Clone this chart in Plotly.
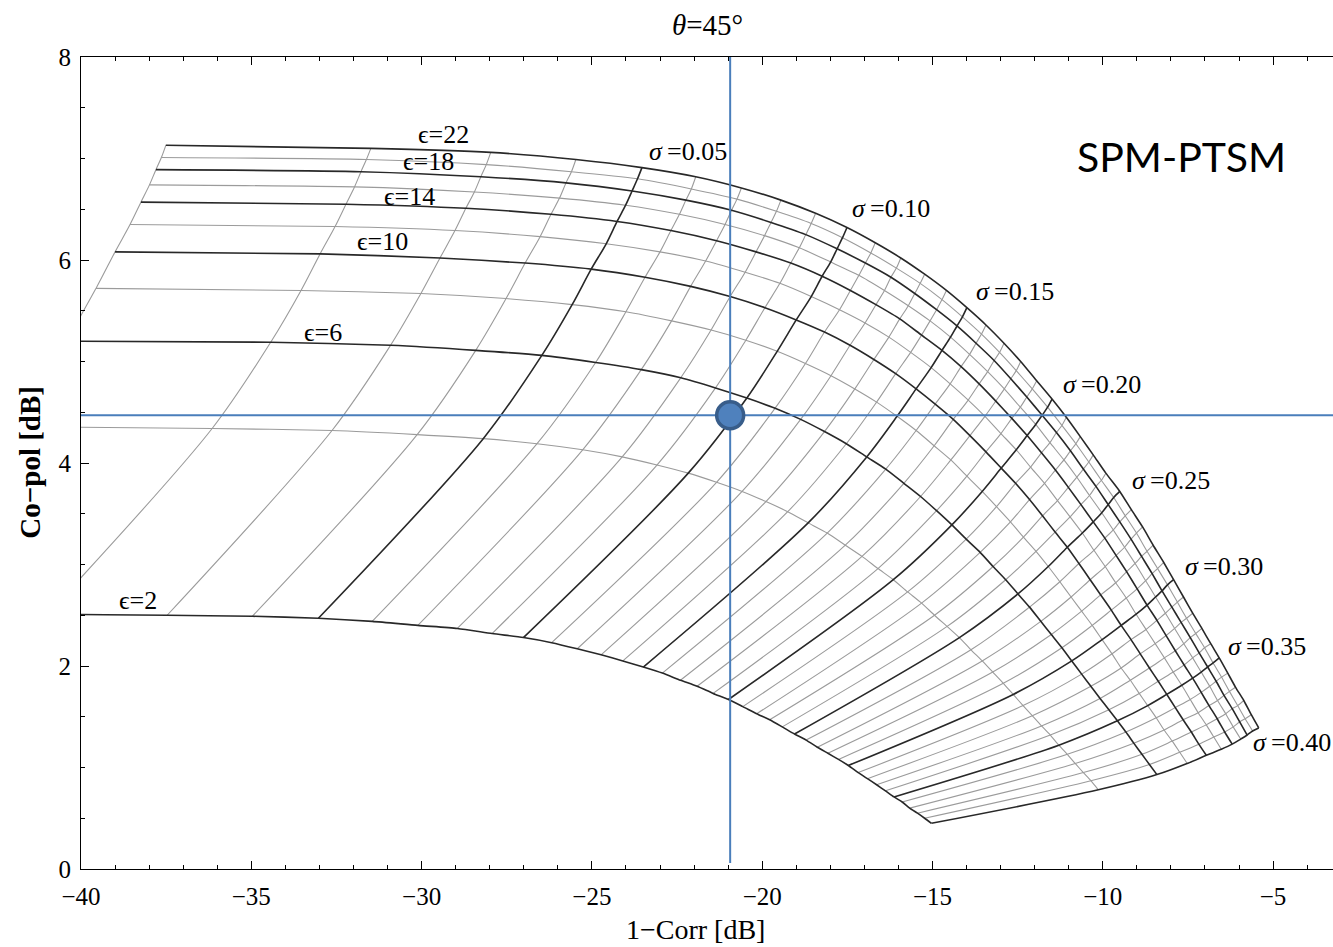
import plotly.graph_objects as go

# ---------------- data ----------------
sigma = [0.01, 0.02, 0.03, 0.04, 0.05, 0.06, 0.07, 0.08, 0.09, 0.10,
         0.11, 0.12, 0.13, 0.14, 0.15, 0.16, 0.17, 0.18, 0.19, 0.20,
         0.21, 0.22, 0.23, 0.24, 0.25, 0.26, 0.27, 0.28, 0.29, 0.30,
         0.31, 0.32, 0.33, 0.34, 0.35, 0.36, 0.37, 0.38, 0.39, 0.40]
eps = [2, 4, 6, 8, 10, 12, 14, 16, 18, 20, 22]
thick_eps = [2, 6, 10, 14, 18, 22]
thick_sigma = [0.05, 0.10, 0.15, 0.20, 0.25, 0.30, 0.35, 0.40]

# 1-Corr [dB] along each epsilon curve (one value per sigma)
corr_eps2 = [-47.01, -40.99, -37.47, -34.97, -33.03, -31.45, -30.11, -28.95, -27.93, -27.01,
             -26.18, -25.43, -24.73, -24.09, -23.49, -22.93, -22.40, -21.91, -21.44, -20.99,
             -20.57, -20.16, -19.78, -19.41, -19.05, -18.71, -18.38, -18.07, -17.76, -17.47,
             -17.18, -16.91, -16.64, -16.38, -16.13, -15.89, -15.67, -15.44, -15.23, -15.03]
corr_eps4 = [-42.17, -36.15, -32.63, -30.13, -28.19, -26.61, -25.27, -24.11, -23.09, -22.17,
             -21.34, -20.59, -19.89, -19.25, -18.65, -18.09, -17.56, -17.07, -16.60, -16.15,
             -15.73, -15.32, -14.94, -14.57, -14.21, -13.87, -13.54, -13.23, -12.92, -12.63,
             -12.34, -12.07, -11.80, -11.54, -11.29, -11.04, -10.81, -10.57, -10.35, -10.13]
corr_eps6 = [-40.45, -34.43, -30.91, -28.41, -26.47, -24.89, -23.55, -22.39, -21.37, -20.45,
             -19.62, -18.87, -18.17, -17.53, -16.93, -16.37, -15.84, -15.35, -14.88, -14.43,
             -14.01, -13.60, -13.22, -12.85, -12.49, -12.15, -11.82, -11.51, -11.20, -10.91,
             -10.62, -10.35, -10.08, -9.82, -9.57, -9.32, -9.09, -8.85, -8.63, -8.41]
corr_eps8 = [-39.56, -33.54, -30.02, -27.52, -25.58, -24.00, -22.66, -21.50, -20.48, -19.56,
             -18.73, -17.98, -17.28, -16.64, -16.04, -15.48, -14.95, -14.46, -13.99, -13.54,
             -13.12, -12.71, -12.33, -11.96, -11.60, -11.26, -10.93, -10.62, -10.31, -10.02,
             -9.73, -9.46, -9.19, -8.93, -8.68, -8.43, -8.20, -7.96, -7.74, -7.52]
corr_eps10 = [-39.00, -32.98, -29.46, -26.96, -25.02, -23.44, -22.10, -20.94, -19.92, -19.00,
              -18.17, -17.42, -16.72, -16.08, -15.48, -14.92, -14.39, -13.90, -13.43, -12.98,
              -12.56, -12.15, -11.77, -11.40, -11.04, -10.70, -10.37, -10.06, -9.75, -9.46,
              -9.17, -8.90, -8.63, -8.37, -8.12, -7.87, -7.64, -7.40, -7.18, -6.96]
corr_eps12 = [-38.56, -32.54, -29.02, -26.52, -24.58, -23.00, -21.66, -20.50, -19.48, -18.56,
              -17.73, -16.98, -16.28, -15.64, -15.04, -14.48, -13.95, -13.46, -12.99, -12.54,
              -12.12, -11.71, -11.33, -10.96, -10.60, -10.26, -9.93, -9.62, -9.31, -9.02,
              -8.73, -8.46, -8.19, -7.93, -7.68, -7.43, -7.20, -6.96, -6.74, -6.52]
corr_eps14 = [-38.24, -32.22, -28.70, -26.20, -24.26, -22.68, -21.34, -20.18, -19.16, -18.24,
              -17.41, -16.66, -15.96, -15.32, -14.72, -14.16, -13.63, -13.14, -12.67, -12.22,
              -11.80, -11.39, -11.01, -10.64, -10.28, -9.94, -9.61, -9.30, -8.99, -8.70,
              -8.41, -8.14, -7.87, -7.61, -7.36, -7.11, -6.88, -6.64, -6.42, -6.20]
corr_eps16 = [-37.99, -31.97, -28.45, -25.95, -24.01, -22.43, -21.09, -19.93, -18.91, -17.99,
              -17.16, -16.41, -15.71, -15.07, -14.47, -13.91, -13.38, -12.89, -12.42, -11.97,
              -11.55, -11.14, -10.76, -10.39, -10.03, -9.69, -9.36, -9.05, -8.74, -8.45,
              -8.16, -7.89, -7.62, -7.36, -7.11, -6.86, -6.63, -6.39, -6.17, -5.95]
corr_eps18 = [-37.80, -31.78, -28.26, -25.76, -23.82, -22.24, -20.90, -19.74, -18.72, -17.80,
              -16.97, -16.22, -15.52, -14.88, -14.28, -13.72, -13.19, -12.70, -12.23, -11.78,
              -11.36, -10.95, -10.57, -10.20, -9.84, -9.50, -9.17, -8.86, -8.55, -8.26,
              -7.97, -7.70, -7.43, -7.17, -6.92, -6.67, -6.44, -6.20, -5.98, -5.76]
corr_eps20 = [-37.64, -31.62, -28.10, -25.60, -23.66, -22.08, -20.74, -19.58, -18.56, -17.64,
              -16.81, -16.06, -15.36, -14.72, -14.12, -13.56, -13.03, -12.54, -12.07, -11.62,
              -11.20, -10.79, -10.41, -10.04, -9.68, -9.34, -9.01, -8.70, -8.39, -8.10,
              -7.81, -7.54, -7.27, -7.01, -6.76, -6.51, -6.28, -6.04, -5.82, -5.60]
corr_eps22 = [-37.51, -31.49, -27.97, -25.47, -23.53, -21.95, -20.61, -19.45, -18.43, -17.51,
              -16.68, -15.93, -15.23, -14.59, -13.99, -13.43, -12.90, -12.41, -11.94, -11.49,
              -11.07, -10.66, -10.28, -9.91, -9.50, -9.16, -8.83, -8.52, -8.21, -7.92,
              -7.63, -7.36, -7.09, -6.83, -6.58, -6.33, -6.10, -5.86, -5.64, -5.42]

# Co-pol [dB] along each epsilon curve (one value per sigma)
copol_eps2 = [2.52, 2.51, 2.50, 2.49, 2.47, 2.44, 2.40, 2.37, 2.32, 2.28,
              2.23, 2.17, 2.11, 2.05, 1.99, 1.93, 1.86, 1.80, 1.73, 1.67,
              1.60, 1.53, 1.47, 1.40, 1.33, 1.27, 1.20, 1.14, 1.08, 1.02,
              0.95, 0.89, 0.83, 0.77, 0.71, 0.66, 0.60, 0.55, 0.50, 0.45]
copol_eps4 = [4.36, 4.34, 4.32, 4.28, 4.24, 4.19, 4.13, 4.06, 3.98, 3.90,
              3.81, 3.72, 3.62, 3.52, 3.41, 3.31, 3.19, 3.08, 2.96, 2.85,
              2.73, 2.62, 2.50, 2.39, 2.28, 2.16, 2.05, 1.94, 1.83, 1.72,
              1.61, 1.51, 1.41, 1.32, 1.22, 1.13, 1.04, 0.95, 0.87, 0.78]
copol_eps6 = [5.20, 5.19, 5.16, 5.11, 5.06, 4.99, 4.92, 4.84, 4.74, 4.64,
              4.54, 4.43, 4.31, 4.19, 4.06, 3.94, 3.80, 3.67, 3.53, 3.39,
              3.25, 3.12, 2.98, 2.85, 2.71, 2.58, 2.44, 2.31, 2.18, 2.05,
              1.92, 1.80, 1.68, 1.57, 1.46, 1.35, 1.24, 1.13, 1.03, 0.93]
copol_eps8 = [5.72, 5.70, 5.67, 5.62, 5.56, 5.49, 5.40, 5.31, 5.21, 5.10,
              4.98, 4.86, 4.73, 4.60, 4.46, 4.32, 4.17, 4.03, 3.87, 3.72,
              3.57, 3.42, 3.27, 3.13, 2.98, 2.83, 2.68, 2.54, 2.40, 2.26,
              2.12, 1.98, 1.86, 1.73, 1.61, 1.49, 1.37, 1.26, 1.15, 1.04]
copol_eps10 = [6.08, 6.06, 6.02, 5.97, 5.91, 5.83, 5.74, 5.64, 5.53, 5.41,
               5.29, 5.16, 5.02, 4.88, 4.73, 4.58, 4.43, 4.27, 4.11, 3.95,
               3.80, 3.64, 3.48, 3.32, 3.17, 3.01, 2.85, 2.70, 2.55, 2.40,
               2.26, 2.12, 1.98, 1.85, 1.72, 1.59, 1.47, 1.35, 1.23, 1.12]
copol_eps12 = [6.35, 6.33, 6.29, 6.23, 6.16, 6.08, 5.99, 5.88, 5.77, 5.64,
               5.51, 5.38, 5.24, 5.09, 4.94, 4.78, 4.62, 4.46, 4.29, 4.13,
               3.96, 3.80, 3.63, 3.47, 3.31, 3.14, 2.98, 2.82, 2.67, 2.51,
               2.36, 2.22, 2.08, 1.94, 1.81, 1.67, 1.54, 1.42, 1.30, 1.18]
copol_eps14 = [6.57, 6.55, 6.51, 6.45, 6.38, 6.29, 6.19, 6.08, 5.97, 5.84,
               5.70, 5.56, 5.42, 5.26, 5.11, 4.95, 4.78, 4.61, 4.44, 4.27,
               4.10, 3.93, 3.76, 3.59, 3.42, 3.26, 3.09, 2.93, 2.76, 2.60,
               2.45, 2.30, 2.15, 2.01, 1.88, 1.74, 1.61, 1.48, 1.35, 1.23]
copol_eps16 = [6.74, 6.72, 6.67, 6.61, 6.54, 6.45, 6.35, 6.24, 6.12, 5.98,
               5.85, 5.70, 5.55, 5.40, 5.24, 5.07, 4.90, 4.73, 4.55, 4.38,
               4.20, 4.03, 3.86, 3.68, 3.51, 3.34, 3.17, 3.01, 2.84, 2.68,
               2.52, 2.37, 2.22, 2.08, 1.94, 1.80, 1.66, 1.53, 1.40, 1.28]
copol_eps18 = [6.89, 6.87, 6.82, 6.76, 6.68, 6.59, 6.49, 6.37, 6.25, 6.11,
               5.97, 5.83, 5.67, 5.51, 5.35, 5.18, 5.01, 4.83, 4.65, 4.47,
               4.30, 4.12, 3.94, 3.77, 3.59, 3.42, 3.25, 3.08, 2.91, 2.74,
               2.58, 2.43, 2.28, 2.13, 1.99, 1.85, 1.71, 1.58, 1.45, 1.32]
copol_eps20 = [7.01, 6.99, 6.94, 6.87, 6.80, 6.70, 6.60, 6.48, 6.36, 6.22,
               6.07, 5.92, 5.77, 5.61, 5.44, 5.27, 5.09, 4.91, 4.73, 4.55,
               4.37, 4.19, 4.01, 3.83, 3.66, 3.48, 3.31, 3.13, 2.96, 2.80,
               2.63, 2.47, 2.32, 2.18, 2.03, 1.89, 1.75, 1.61, 1.48, 1.36]
copol_eps22 = [7.13, 7.10, 7.06, 6.99, 6.91, 6.82, 6.71, 6.59, 6.46, 6.32,
               6.17, 6.02, 5.86, 5.70, 5.53, 5.36, 5.18, 5.00, 4.81, 4.63,
               4.45, 4.26, 4.08, 3.90, 3.72, 3.54, 3.37, 3.19, 3.02, 2.85,
               2.68, 2.52, 2.37, 2.22, 2.08, 1.93, 1.79, 1.66, 1.52, 1.39]

# measured point (blue marker + crosshair)
point_x = [-20.94]
point_y = [4.47]

corr = {2: corr_eps2, 4: corr_eps4, 6: corr_eps6, 8: corr_eps8, 10: corr_eps10,
        12: corr_eps12, 14: corr_eps14, 16: corr_eps16, 18: corr_eps18,
        20: corr_eps20, 22: corr_eps22}
copol = {2: copol_eps2, 4: copol_eps4, 6: copol_eps6, 8: copol_eps8, 10: copol_eps10,
         12: copol_eps12, 14: copol_eps14, 16: copol_eps16, 18: copol_eps18,
         20: copol_eps20, 22: copol_eps22}

# ---------------- styling ----------------
SERIF = "Liberation Serif, Times New Roman, serif"
THICK = dict(color="rgb(40,40,40)", width=1.6)
THIN = dict(color="rgb(155,155,155)", width=1.1)
BLUE = "#4A7EBB"
XMIN, XMAX = -40, -3.24

fig = go.Figure()

def is_thick_sigma(s):
    return any(abs(s - t) < 1e-9 for t in thick_sigma)

for thick in (False, True):
    for j, s in enumerate(sigma):
        if is_thick_sigma(s) != thick:
            continue
        style = THICK if thick else THIN
        fig.add_trace(go.Scatter(
            x=[corr[e][j] for e in eps], y=[copol[e][j] for e in eps],
            mode="lines", line=dict(shape="spline", smoothing=0.9, **style),
            hoverinfo="skip", showlegend=False))
    for e in eps:
        if (e in thick_eps) != thick:
            continue
        style = THICK if thick else THIN
        fig.add_trace(go.Scatter(
            x=corr[e], y=copol[e],
            mode="lines", line=dict(shape="spline", smoothing=0.6, **style),
            hoverinfo="skip", showlegend=False))

# crosshair through the measured point
fig.add_trace(go.Scatter(x=[point_x[0], point_x[0]], y=[0.06, 8],
                         mode="lines", line=dict(color=BLUE, width=2),
                         hoverinfo="skip", showlegend=False))
fig.add_trace(go.Scatter(x=[XMIN - 0.1, XMAX], y=[point_y[0], point_y[0]],
                         mode="lines", line=dict(color=BLUE, width=2),
                         hoverinfo="skip", showlegend=False))
fig.add_trace(go.Scatter(x=point_x, y=point_y, mode="markers",
                         marker=dict(size=27, color="#4F81BD",
                                     line=dict(color="#385D8A", width=3.5)),
                         hoverinfo="skip", showlegend=False))

annotations = []
# epsilon labels
eps_label_pos = [(22, -30.17, 7.24), (18, -30.61, 6.975), (14, -31.17, 6.63),
                 (10, -31.96, 6.18), (6, -33.52, 5.29), (2, -38.95, 2.65)]
for e, lx, ly in eps_label_pos:
    annotations.append(dict(x=lx, y=ly, xref="x", yref="y", text="\u03f5=%d" % e,
                            showarrow=False, xanchor="left", yanchor="middle",
                            font=dict(family=SERIF, size=26, color="black")))
# sigma labels
sig_label_pos = [(0.05, -23.39, 7.07), (0.10, -17.42, 6.51), (0.15, -13.78, 5.69),
                 (0.20, -11.24, 4.77), (0.25, -9.21, 3.83), (0.30, -7.65, 2.976),
                 (0.35, -6.37, 2.19), (0.40, -5.66, 1.245)]
for s, lx, ly in sig_label_pos:
    annotations.append(dict(x=lx, y=ly, xref="x", yref="y",
                            text="<i>\u03c3</i>\u2009=%.2f" % s,
                            showarrow=False, xanchor="left", yanchor="middle",
                            font=dict(family=SERIF, size=26, color="black")))

annotations += [
    dict(x=0.5, y=1.040, xref="paper", yref="paper", text="<i>\u03b8</i>=45\u00b0",
         showarrow=False, xanchor="center", yanchor="middle",
         font=dict(family=SERIF, size=29, color="black")),
    dict(x=0.4912, y=-0.0745, xref="paper", yref="paper", text="1\u2212Corr [dB]",
         showarrow=False, xanchor="center", yanchor="middle",
         font=dict(family=SERIF, size=28, color="black")),
    dict(x=-0.0407, y=0.5004, xref="paper", yref="paper", text="<b>Co\u2212pol [dB]</b>",
         showarrow=False, xanchor="center", yanchor="middle", textangle=-90,
         font=dict(family=SERIF, size=29, color="black")),
    dict(x=0.879, y=0.878, xref="paper", yref="paper", text="SPM-PTSM",
         showarrow=False, xanchor="center", yanchor="middle",
         font=dict(family="Lato, Open Sans, sans-serif", size=41, color="black")),
]

fig.update_layout(
    width=1333, height=947,
    margin=dict(l=81, r=0, t=57, b=78, autoexpand=False),
    paper_bgcolor="white", plot_bgcolor="white",
    showlegend=False,
    annotations=annotations,
    xaxis=dict(range=[XMIN, XMAX], tick0=-40, dtick=5, ticks="inside", ticklen=8,
               tickwidth=1, tickcolor="black", showline=True, linecolor="black",
               linewidth=1.2, mirror="ticks", showgrid=False, zeroline=False,
               ticklabelstandoff=5,
               tickfont=dict(family=SERIF, size=25, color="black"),
               minor=dict(ticks="inside", ticklen=4, tickcolor="black", dtick=1,
                          tick0=-40, showgrid=False),
               automargin=False),
    yaxis=dict(range=[0, 8], tick0=0, dtick=2, ticks="inside", ticklen=8,
               tickwidth=1, tickcolor="black", showline=True, linecolor="black",
               linewidth=1.2, mirror=False, showgrid=False, zeroline=False,
               ticklabelstandoff=4,
               tickfont=dict(family=SERIF, size=25, color="black"),
               minor=dict(ticks="inside", ticklen=4, tickcolor="black", dtick=0.5,
                          tick0=0, showgrid=False),
               automargin=False),
)

fig.write_html("out.html")
